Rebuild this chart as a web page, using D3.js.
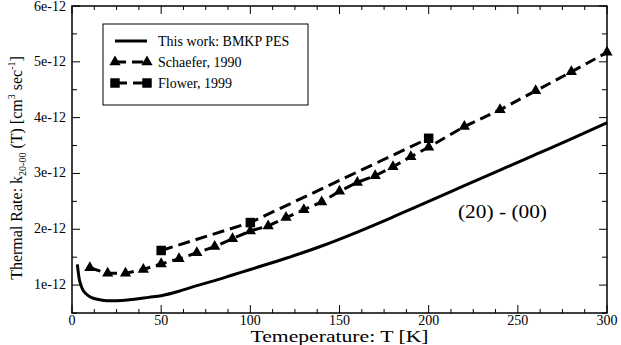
<!DOCTYPE html>
<html>
<head>
<meta charset="utf-8">
<script src="https://cdn.jsdelivr.net/npm/d3@7"></script>
<style>
  body { margin: 0; background: #fff; }
  svg text { font-family: "Liberation Serif", "DejaVu Serif", serif; fill: #000; }
</style>
</head>
<body>
<svg id="svg" width="621" height="345"></svg>
<script>
// data (rates in units of 1e-12 cm^3/s)
var thisWorkT    = [3, 4, 5, 6, 8, 10, 13, 17, 22, 28, 35, 43, 50, 60, 70, 80, 90, 100, 120, 140, 160, 180, 200, 220, 240, 260, 280, 300]
var thisWorkRate = [1.37, 1.12, 1.0, 0.92, 0.84, 0.79, 0.755, 0.73, 0.72, 0.725, 0.745, 0.78, 0.81, 0.89, 0.99, 1.08, 1.18, 1.28, 1.48, 1.70, 1.95, 2.22, 2.50, 2.78, 3.06, 3.34, 3.62, 3.91]

var schaeferT    = [10, 20, 30, 40, 50, 60, 70, 80, 90, 100, 110, 120, 130, 140, 150, 160, 170, 180, 190, 200, 220, 240, 260, 280, 300]
var schaeferRate = [1.31, 1.21, 1.21, 1.28, 1.38, 1.47, 1.58, 1.69, 1.83, 1.97, 2.06, 2.21, 2.35, 2.49, 2.68, 2.84, 2.96, 3.12, 3.30, 3.47, 3.84, 4.14, 4.48, 4.82, 5.17]

var flowerT    = [50, 100, 200]
var flowerRate = [1.62, 2.12, 3.63]

var xTicks = [0, 50, 100, 150, 200, 250, 300]
var yTicks = [1, 2, 3, 4, 5, 6]
var yTickLabels = ["1e-12", "2e-12", "3e-12", "4e-12", "5e-12", "6e-12"]

var svg = d3.select("svg")
// plot box in pixels (note: "top" is reserved on window, so use pTop etc)
var pLeft = 72, pRight = 607, pTop = 6, pBottom = 313

var x = d3.scaleLinear().domain([0, 300]).range([pLeft, pRight])
var y = d3.scaleLinear().domain([0.5, 6]).range([pBottom, pTop])

function zip(a, b) { return a.map(function(v, i) { return [v, b[i]] }) }

// frame
svg.append("rect")
  .attr("x", pLeft).attr("y", pTop)
  .attr("width", pRight - pLeft).attr("height", pBottom - pTop)
  .attr("fill", "none").attr("stroke", "#000").attr("stroke-width", 1.5)

// ticks on all four sides, pointing inward
var xMinor = d3.range(0, 300.1, 12.5)
var yMinor = d3.range(0.5, 6.01, 0.5)
var g = svg.append("g").attr("class", "ticks").attr("stroke", "#000").attr("stroke-width", 1)

xMinor.forEach(function(t) {
  var len = (t % 50 === 0) ? 8 : 4
  g.append("line").attr("x1", x(t)).attr("x2", x(t)).attr("y1", pBottom).attr("y2", pBottom - len)
  g.append("line").attr("x1", x(t)).attr("x2", x(t)).attr("y1", pTop).attr("y2", pTop + len)
})
yMinor.forEach(function(v) {
  var len = (Math.abs(v - Math.round(v)) < 1e-9) ? 8 : 5
  g.append("line").attr("x1", pLeft).attr("x2", pLeft + len).attr("y1", y(v)).attr("y2", y(v))
  g.append("line").attr("x1", pRight).attr("x2", pRight - len).attr("y1", y(v)).attr("y2", y(v))
})

// tick labels
svg.append("g").selectAll("text").data(xTicks).enter().append("text")
  .attr("x", function(d) { return x(d) }).attr("y", pBottom + 12)
  .attr("text-anchor", "middle").attr("font-size", 14)
  .text(function(d) { return d })

svg.append("g").selectAll("text").data(yTicks).enter().append("text")
  .attr("x", pLeft - 6).attr("y", function(d) { return Math.max(y(d) + 4, 11) })
  .attr("text-anchor", "end").attr("font-size", 14)
  .text(function(d, i) { return yTickLabels[i] })

// axis titles (reference text is stretched sideways, so fix the widths)
svg.append("text")
  .attr("x", (pLeft + pRight) / 2 - 89).attr("y", 342)
  .attr("font-size", 16)
  .attr("textLength", 178).attr("lengthAdjust", "spacingAndGlyphs")
  .text("Temeperature: T [K]")

var yl = svg.append("text")
  .attr("transform", "translate(22,168) rotate(-90)")
  .attr("text-anchor", "middle").attr("font-size", 16)
yl.append("tspan").text("Thermal Rate:  k")
yl.append("tspan").attr("font-size", 10).attr("dy", 4).text("20-00")
yl.append("tspan").attr("dy", -4).text(" (T)  [cm")
yl.append("tspan").attr("font-size", 10).attr("dy", -7).text("3")
yl.append("tspan").attr("dy", 7).text(" sec")
yl.append("tspan").attr("font-size", 10).attr("dy", -7).text("-1")
yl.append("tspan").attr("dy", 7).text("]")

// curves
var smooth = d3.line().x(function(d) { return x(d[0]) }).y(function(d) { return y(d[1]) }).curve(d3.curveMonotoneX)
var straight = d3.line().x(function(d) { return x(d[0]) }).y(function(d) { return y(d[1]) })

svg.append("path").datum(zip(thisWorkT, thisWorkRate))
  .attr("fill", "none").attr("stroke", "#000").attr("stroke-width", 3)
  .attr("d", smooth)

svg.append("path").datum(zip(flowerT, flowerRate))
  .attr("fill", "none").attr("stroke", "#000").attr("stroke-width", 3)
  .attr("stroke-dasharray", "12,6")
  .attr("d", straight)

svg.append("path").datum(zip(schaeferT, schaeferRate))
  .attr("fill", "none").attr("stroke", "#000").attr("stroke-width", 3)
  .attr("stroke-dasharray", "11,6")
  .attr("d", straight)

var tri = d3.symbol().type(d3.symbolTriangle).size(55)
var sq = d3.symbol().type(d3.symbolSquare).size(90)

svg.append("g").selectAll("path").data(zip(schaeferT, schaeferRate)).enter().append("path")
  .attr("d", tri)
  .attr("transform", function(d) { return "translate(" + x(d[0]) + "," + y(d[1]) + ")" })
  .attr("fill", "#000")

svg.append("g").selectAll("path").data(zip(flowerT, flowerRate)).enter().append("path")
  .attr("d", sq)
  .attr("transform", function(d) { return "translate(" + x(d[0]) + "," + y(d[1]) + ")" })
  .attr("fill", "#000")

// annotation
svg.append("text").attr("x", 458).attr("y", 218).attr("font-size", 18)
  .attr("textLength", 89).attr("lengthAdjust", "spacingAndGlyphs")
  .text("(20) -  (00)")

// legend
var lg = svg.append("g").attr("class", "legend")
lg.append("rect").attr("x", 103).attr("y", 24).attr("width", 205).attr("height", 81)
  .attr("fill", "#fff").attr("stroke", "#000").attr("stroke-width", 1)

var entries = [
  { label: "This work: BMKP PES", dash: null, sym: null },
  { label: "Schaefer, 1990", dash: "11,6", sym: tri },
  { label: "Flower, 1999", dash: "12,6", sym: sq }
]
entries.forEach(function(e, i) {
  var ly = 41 + i * 21
  lg.append("line").attr("x1", 115).attr("x2", 147).attr("y1", ly).attr("y2", ly)
    .attr("stroke", "#000").attr("stroke-width", 3)
    .attr("stroke-dasharray", e.dash)
  if (e.sym) {
    [115, 147].forEach(function(sx) {
      lg.append("path").attr("d", e.sym).attr("fill", "#000")
        .attr("transform", "translate(" + sx + "," + ly + ")")
    })
  }
  lg.append("text").attr("x", 158).attr("y", ly + 5).attr("font-size", 14).text(e.label)
})
</script>
</body>
</html>
